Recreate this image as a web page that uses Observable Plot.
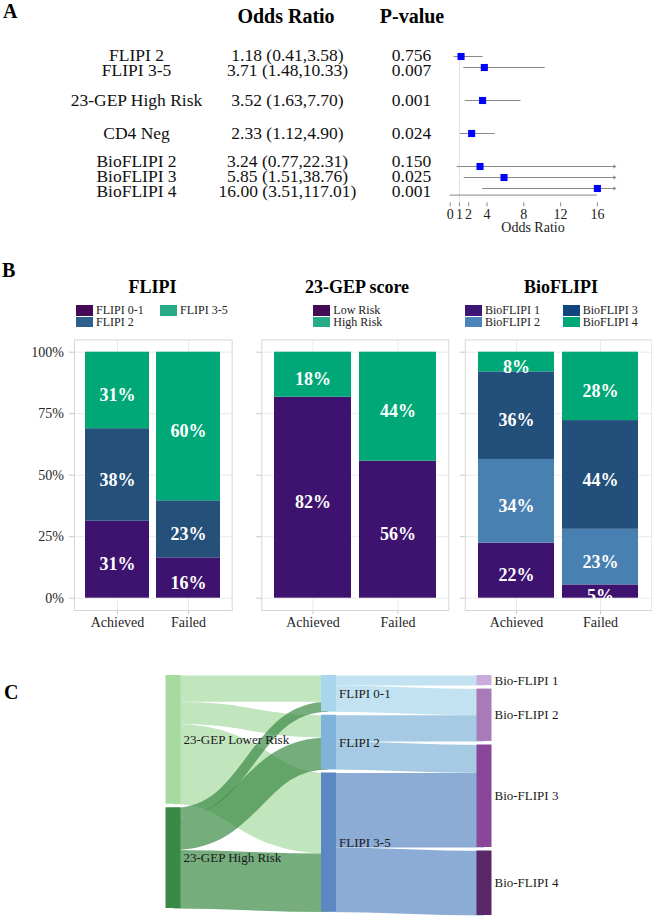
<!DOCTYPE html>
<html><head><meta charset="utf-8">
<script src="https://cdn.jsdelivr.net/npm/d3@7"></script>
<script src="https://cdn.jsdelivr.net/npm/@observablehq/plot@0.6"></script>
<style>
body{margin:0;background:#fff;}
#fig{position:relative;width:652px;height:917px;overflow:hidden;background:#fff;font-family:"Liberation Serif","Times New Roman",serif;color:#000;}
#fig svg{position:absolute;}
</style></head><body><div id="fig"></div>
<script>
// ---------- Panel A data ----------
const forestLabels = ["FLIPI 2","FLIPI 3-5","23-GEP High Risk","CD4 Neg","BioFLIPI 2","BioFLIPI 3","BioFLIPI 4"];
const forestGroups = [["FLIPI 2","FLIPI 3-5"],["23-GEP High Risk"],["CD4 Neg"],["BioFLIPI 2","BioFLIPI 3","BioFLIPI 4"]];
const forestOR   = [1.18, 3.71, 3.52, 2.33, 3.24, 5.85, 16.00];
const forestLow  = [0.41, 1.48, 1.63, 1.12, 0.77, 1.51, 3.51];
const forestHigh = [3.58, 10.33, 7.70, 4.90, 22.31, 38.76, 117.01];
const forestP    = ["0.756","0.007","0.001","0.024","0.150","0.025","0.001"];
const forestTicks = [0,1,2,4,8,12,16];
const forestXMax = 18;

// ---------- Panel B data ----------
const outcomes = ["Achieved","Failed"];
const flipiCats = ["FLIPI 0-1","FLIPI 2","FLIPI 3-5"];
const flipiAchieved = [31.3, 37.6, 31.1];
const flipiFailed   = [16.4, 23.2, 60.4];
const gepCats = ["Low Risk","High Risk"];
const gepAchieved = [81.7, 18.3];
const gepFailed   = [55.7, 44.3];
const bioCats = ["BioFLIPI 1","BioFLIPI 2","BioFLIPI 3","BioFLIPI 4"];
const bioAchieved = [22.4, 34.0, 35.6, 8.0];
const bioFailed   = [5.4, 22.6, 44.2, 27.8];
const pctTicks = [0,25,50,75,100];

// ---------- Panel C data ----------
const sankeyNodeNames = ["23-GEP Lower Risk","23-GEP High Risk","FLIPI 0-1","FLIPI 2","FLIPI 3-5","Bio-FLIPI 1","Bio-FLIPI 2","Bio-FLIPI 3","Bio-FLIPI 4"];
const sankeyNodeColumn = [0,0,1,1,1,2,2,2,2];
const linkSource = ["23-GEP Lower Risk","23-GEP Lower Risk","23-GEP Lower Risk","23-GEP High Risk","23-GEP High Risk","23-GEP High Risk","FLIPI 0-1","FLIPI 0-1","FLIPI 2","FLIPI 2","FLIPI 3-5","FLIPI 3-5"];
const linkTarget = ["FLIPI 0-1","FLIPI 2","FLIPI 3-5","FLIPI 0-1","FLIPI 2","FLIPI 3-5","Bio-FLIPI 1","Bio-FLIPI 2","Bio-FLIPI 2","Bio-FLIPI 3","Bio-FLIPI 3","Bio-FLIPI 4"];
const linkValue  = [13, 11, 40, 5, 16, 29, 5, 13, 13, 14, 37, 32];

// ---------- styles ----------
const SERIF = '"Liberation Serif","Times New Roman",serif';
const baseStyle = {background:"none", fontFamily: SERIF, overflow:"visible"};
const fig = document.getElementById("fig");
function place(node, left, top){ node.style.position="absolute"; node.style.left=left+"px"; node.style.top=top+"px"; fig.appendChild(node); return node; }
function label(text, x, top, size, bold, anchor){
  const d=document.createElement("div"); d.textContent=text;
  d.style.cssText=`position:absolute;white-space:nowrap;top:${top}px;left:${x}px;font-size:${size}px;line-height:${size}px;font-weight:${bold?"bold":"normal"};`+(anchor==="middle"?"transform:translateX(-50%);":"");
  fig.appendChild(d);
}
function legendItem(text,color,x,top){
  const d=document.createElement("div");
  d.style.cssText=`position:absolute;left:${x}px;top:${top}px;height:10.5px;display:flex;align-items:center;font-size:12px;line-height:12px;white-space:nowrap;color:#222;`;
  const sw=document.createElement("span"); sw.style.cssText=`display:inline-block;width:17px;height:10.5px;background:${color};margin-right:3px;`;
  d.append(sw, document.createTextNode(text)); fig.appendChild(d);
}

// ================= Panel A =================
const forest = forestLabels.map((label,i)=>({label, or:forestOR[i], lo:forestLow[i], hi:forestHigh[i], p:forestP[i],
  orText:`${forestOR[i].toFixed(2)} (${forestLow[i].toFixed(2)},${forestHigh[i].toFixed(2)})`}));
// table text rows are spread slightly wider than the plotted rows (as in the source table)
forestGroups.forEach(g=>g.forEach((lab,k)=>{ const row=forest.find(d=>d.label===lab); row.tdy=Math.round(((k-(g.length-1)/2)*3.6 - (g.length>2?1.2:0) + (g.length===2?0.6:0))*10)/10; }));
const rowDomain = [];
forestGroups.forEach((g,k)=>{ if(k>0){ rowDomain.push("_gap"+k+"a","_gap"+k+"b"); } rowDomain.push(...g); });
const aLeft = 449.7, aRight = 36.7;
const tableCols = [["label",136],["orText",287],["p",411]];
const tableMarks = d3.groups(forest, d=>d.tdy).flatMap(([dy, rows]) =>
  tableCols.map(([field,cx]) => Plot.text(rows,{y:"label",text:field,frameAnchor:"left",textAnchor:"middle",dx:cx-aLeft,dy,fontSize:17.5,fill:"#111"})));
const plotA = Plot.plot({
  width:652, height:240, marginLeft:aLeft, marginRight:aRight, marginTop:52, marginBottom:37.7,
  x:{domain:[0,forestXMax]},
  y:{type:"point", domain:rowDomain, range:[49,195.7], axis:null},
  style:baseStyle,
  marks:[
    Plot.ruleX([1],{stroke:"#e2e2e2"}),
    Plot.ruleY(forest.filter(d=>d.hi<=forestXMax),{y:"label",x1:"lo",x2:"hi",stroke:"#8a8a8a",strokeWidth:1}),
    Plot.arrow(forest.filter(d=>d.hi>forestXMax),{x1:"lo",x2:()=>forestXMax,y1:"label",y2:"label",stroke:"#8a8a8a",strokeWidth:1,headLength:4}),
    Plot.dot(forest,{x:"or",y:"label",symbol:"square",r:4,fill:"#0000ff"}),
    Plot.ruleY([rowDomain[rowDomain.length-1]],{y:d=>d,x1:()=>0,x2:()=>16,dy:6.6,stroke:"#888"}),
    Plot.axisX({ticks:forestTicks,tickSize:4,tickPadding:2,fontSize:14,stroke:"#888",fill:"#222",label:null}),
    Plot.text(["Odds Ratio"],{frameAnchor:"bottom",dy:28.7,fontSize:14,fill:"#222"}),
    ...tableMarks
  ]
});
place(plotA,0,0);
label("A",3,1.3,20,true);
label("Odds Ratio",286,5.8,20,true,"middle");
label("P-value",412,5.8,20,true,"middle");

// ================= Panel B =================
function stackPanel({cats, achieved, failed, colors, left, width, frameLeft, frameRight, showLabels}){
  const rows=[];
  outcomes.forEach((o,j)=>{ const vals=j===0?achieved:failed; let c=0;
    cats.forEach((cat,i)=>{ const v=vals[i]; rows.push({outcome:o,cat,value:v,y1:c,y2:c+v,mid:c+v/2}); c+=v; }); });
  const p=Plot.plot({
    width, height:310, marginLeft:frameLeft-left, marginRight:left+width-frameRight, marginTop:9.4, marginBottom:30,
    x:{type:"band",domain:outcomes,paddingInner:0.1,paddingOuter:0.15,label:null},
    y:{domain:[-5,105],label:null},
    color:{domain:cats,range:colors},
    style:baseStyle,
    marks:[
      Plot.ruleY(pctTicks,{stroke:"#ebebeb"}),
      Plot.ruleX(outcomes,{x:d=>d,stroke:"#ebebeb"}),
      Plot.barY(rows,{x:"outcome",y1:"y1",y2:"y2",fill:"cat"}),
      Plot.text(rows,{x:"outcome",y:"mid",text:d=>Math.round(d.value)+"%",fill:"#fff",fontWeight:"bold",fontSize:18,dy:5}),
      Plot.axisY({ticks:pctTicks,tickFormat:d=>d+"%",tickSize:5,tickPadding:5.5,stroke:"#c9c9c9",fill:showLabels?"#262626":"none",fontSize:14,label:null}),
      Plot.axisX({tickSize:4,tickPadding:3,stroke:"#c9c9c9",fill:"#262626",fontSize:14,label:null}),
      Plot.frame({stroke:"#d6d6d6"})
    ]
  });
  place(p,left,330);
}
const flipiColors=["#3d136f","#24507a","#00a878"];
const gepColors=["#3d136f","#00a878"];
const bioColors=["#3d136f","#4880b2","#234f7b","#00a878"];
stackPanel({cats:flipiCats,achieved:flipiAchieved,failed:flipiFailed,colors:flipiColors,left:0,width:240,frameLeft:74,frameRight:231.7,showLabels:true});
stackPanel({cats:gepCats,achieved:gepAchieved,failed:gepFailed,colors:gepColors,left:240,width:212,frameLeft:261.3,frameRight:448.3,showLabels:false});
stackPanel({cats:bioCats,achieved:bioAchieved,failed:bioFailed,colors:bioColors,left:452,width:200,frameLeft:464.8,frameRight:651.5,showLabels:false});

label("B",2,260.3,20,true);
label("FLIPI",152.5,278.2,18,true,"middle");
label("23-GEP score",357,278.2,18,true,"middle");
label("BioFLIPI",561,278.2,18,true,"middle");
legendItem(flipiCats[0],"#450a55",76,305);
legendItem(flipiCats[2],"#28aa87",160,305);
legendItem(flipiCats[1],"#2f5f8c",76,316.7);
legendItem(gepCats[0],"#450a55",313.3,305);
legendItem(gepCats[1],"#28aa87",313.3,316.7);
legendItem(bioCats[0],"#3c1675",465,305);
legendItem(bioCats[1],"#4a84b8",465,316.7);
legendItem(bioCats[2],"#0f467d",562.7,305);
legendItem(bioCats[3],"#00a878",562.7,316.7);

// ================= Panel C =================
const nodeColor={"23-GEP Lower Risk":"#a6da9f","23-GEP High Risk":"#3a8a46","FLIPI 0-1":"#a8d6ec","FLIPI 2":"#80b3d9","FLIPI 3-5":"#5b87c3",
  "Bio-FLIPI 1":"#cbaadc","Bio-FLIPI 2":"#a87ab8","Bio-FLIPI 3":"#8a4698","Bio-FLIPI 4":"#5a2767"};
const nodes=sankeyNodeNames.map((name,i)=>({name,col:sankeyNodeColumn[i],inV:0,outV:0}));
const byName=Object.fromEntries(nodes.map(n=>[n.name,n]));
const links=linkSource.map((s,i)=>({source:byName[s],target:byName[linkTarget[i]],value:linkValue[i]}));
links.forEach(l=>{l.source.outV+=l.value; l.target.inV+=l.value;});
nodes.forEach(n=>n.value=Math.max(n.inV,n.outV));
const pad=1.75; let D=0;
[0,1,2].forEach(c=>{ let y=0; nodes.filter(n=>n.col===c).forEach((n,k)=>{ if(k>0) y+=pad; n.y0=y; n.y1=y+n.value; y=n.y1; }); D=Math.max(D,y); });
const order=new Map(nodes.map((n,i)=>[n,i]));
nodes.forEach(n=>{
  let o=n.y0; links.filter(l=>l.source===n).sort((a,b)=>order.get(a.target)-order.get(b.target)).forEach(l=>{l.sy=o+l.value/2; o+=l.value;});
  let t=n.y0; links.filter(l=>l.target===n).sort((a,b)=>order.get(a.source)-order.get(b.source)).forEach(l=>{l.ty=t+l.value/2; t+=l.value;});
});
const cTop=15, cBottom=255, ky=(cBottom-cTop)/D;
const plotC=Plot.plot({
  width:652, height:257, marginLeft:172.5, marginRight:652-483.5, marginTop:cTop, marginBottom:257-cBottom,
  x:{domain:[0,2],axis:null}, y:{domain:[0,D],range:[cTop,cBottom],axis:null},
  style:baseStyle,
  marks:[
    Plot.link(links,{x1:d=>d.source.col,y1:"sy",x2:d=>d.target.col,y2:"ty",curve:"bump-x",
      stroke:d=>nodeColor[d.source.name],strokeOpacity:0.7,strokeWidth:d=>d.value*ky}),
    Plot.ruleX(nodes,{x:"col",y1:"y0",y2:"y1",stroke:d=>nodeColor[d.name],strokeWidth:15}),
    Plot.text(nodes,{x:"col",y:d=>(d.y0+d.y1)/2,text:"name",textAnchor:"start",dx:10.5,fontSize:13,fill:"#1a1a1a"})
  ]
});
place(plotC,0,660);
label("C",4,682,20,true);
</script></body></html>
